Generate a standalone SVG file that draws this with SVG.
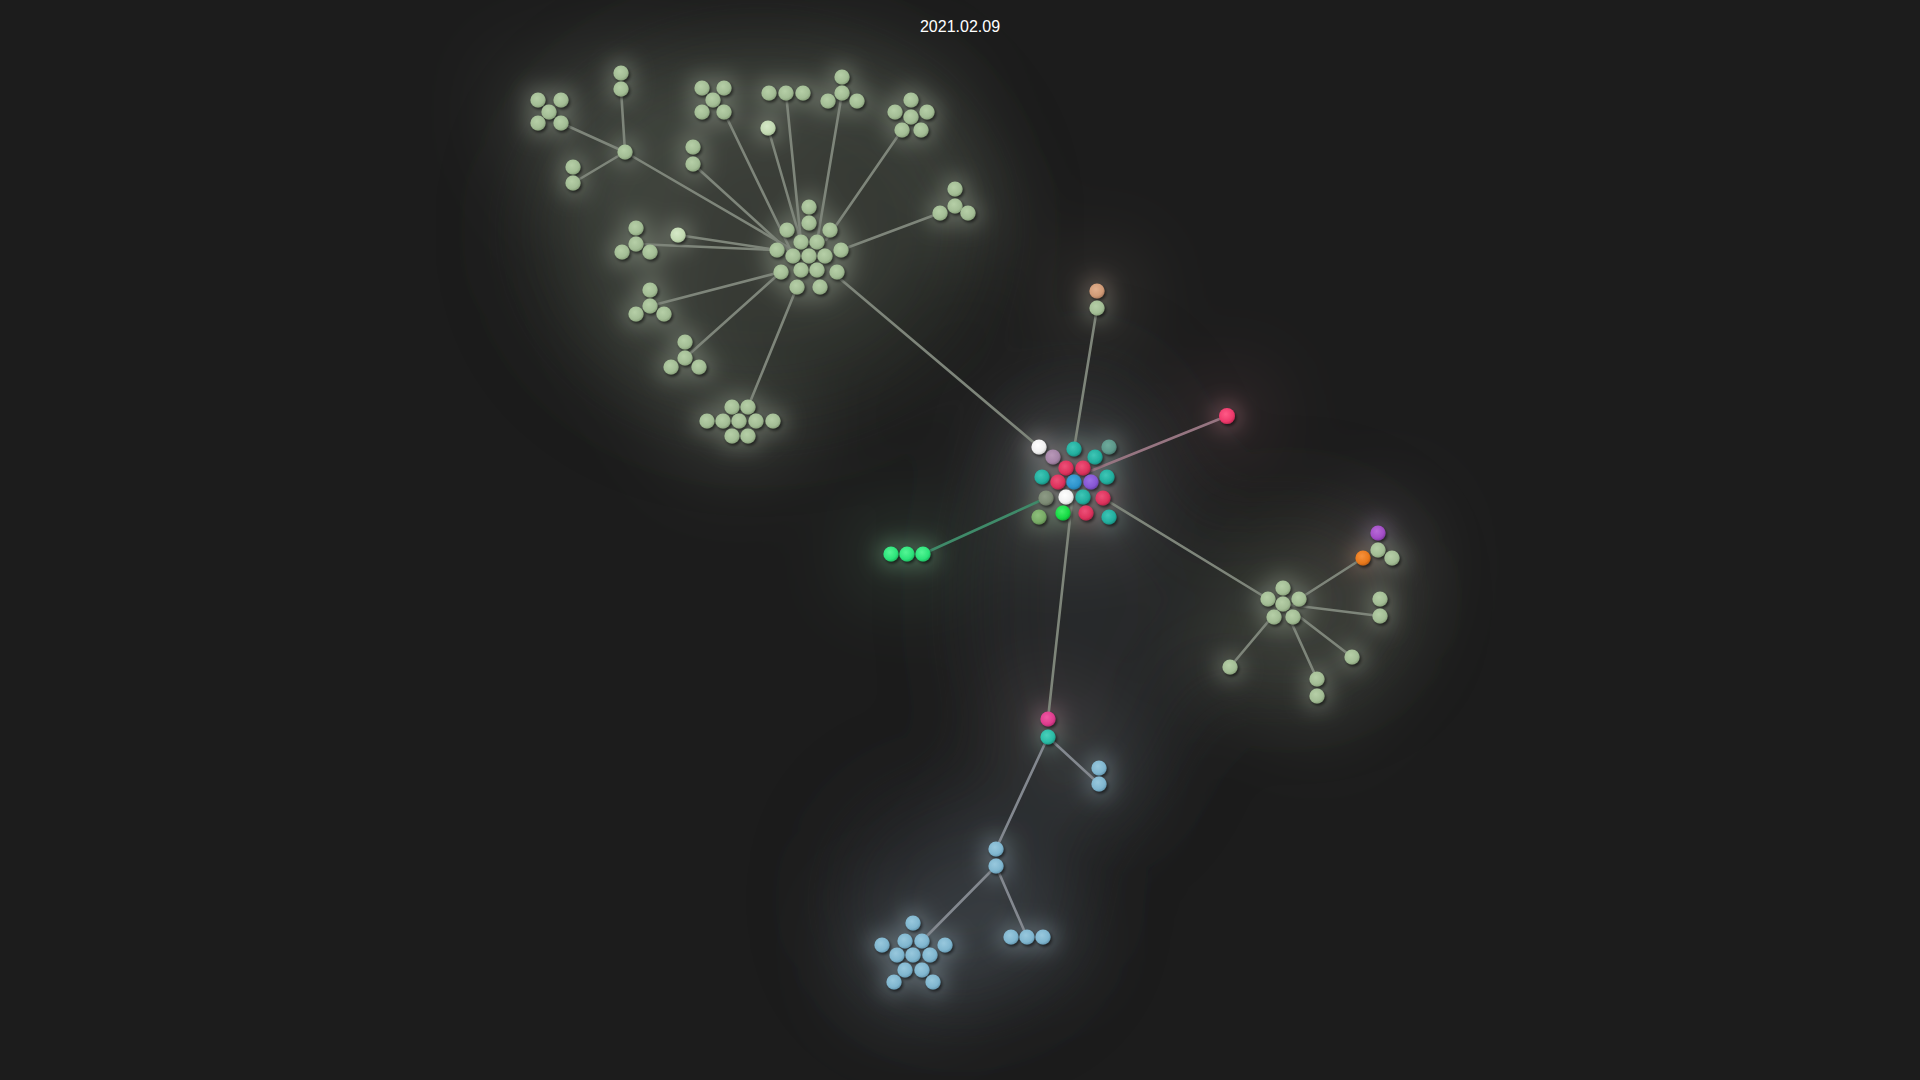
<svg xmlns="http://www.w3.org/2000/svg" xmlns:xlink="http://www.w3.org/1999/xlink" width="1920" height="1080" viewBox="0 0 1920 1080">
<defs>
<filter id="fog" filterUnits="userSpaceOnUse" x="0" y="0" width="1920" height="1080">
<feMorphology operator="dilate" radius="26"/>
<feGaussianBlur stdDeviation="40"/>
<feColorMatrix type="matrix" values="0.6 0 0 0 0.22  0 0.6 0 0 0.22  0 0 0.6 0 0.22  0 0 0 0.16 0"/>
</filter>
<filter id="halo" filterUnits="userSpaceOnUse" x="0" y="0" width="1920" height="1080">
<feMorphology operator="dilate" radius="6"/>
<feGaussianBlur stdDeviation="10"/>
<feColorMatrix type="matrix" values="0.7 0 0 0 0.28  0 0.7 0 0 0.28  0 0 0.7 0 0.28  0 0 0 0.26 0"/>
</filter>
<filter id="mist" filterUnits="userSpaceOnUse" x="0" y="0" width="1920" height="1080">
<feGaussianBlur stdDeviation="45"/>
</filter>
<filter id="shadow" filterUnits="userSpaceOnUse" x="0" y="0" width="1920" height="1080">
<feDropShadow dx="1.5" dy="2" stdDeviation="1.6" flood-color="#000" flood-opacity="0.6"/>
</filter>
<radialGradient id="gs" cx="0.42" cy="0.38" r="0.62"><stop offset="0" stop-color="#b6cfa7"/><stop offset="0.75" stop-color="#a3bd95"/><stop offset="1" stop-color="#8aa37c"/></radialGradient>
<radialGradient id="gsb" cx="0.42" cy="0.38" r="0.62"><stop offset="0" stop-color="#d6e9c8"/><stop offset="0.75" stop-color="#c2d9b2"/><stop offset="1" stop-color="#a9c199"/></radialGradient>
<radialGradient id="gb" cx="0.42" cy="0.38" r="0.62"><stop offset="0" stop-color="#98c8dd"/><stop offset="0.75" stop-color="#80b6cf"/><stop offset="1" stop-color="#679bb4"/></radialGradient>
<radialGradient id="gt" cx="0.42" cy="0.38" r="0.62"><stop offset="0" stop-color="#3fc6b6"/><stop offset="0.75" stop-color="#22ae9e"/><stop offset="1" stop-color="#178e80"/></radialGradient>
<radialGradient id="gr" cx="0.42" cy="0.38" r="0.62"><stop offset="0" stop-color="#ee5078"/><stop offset="0.75" stop-color="#dc325c"/><stop offset="1" stop-color="#b5244a"/></radialGradient>
<radialGradient id="gw" cx="0.42" cy="0.38" r="0.62"><stop offset="0" stop-color="#ffffff"/><stop offset="0.75" stop-color="#f0f0f0"/><stop offset="1" stop-color="#cfcfcf"/></radialGradient>
<radialGradient id="gl" cx="0.42" cy="0.38" r="0.62"><stop offset="0" stop-color="#b898b8"/><stop offset="0.75" stop-color="#a484a6"/><stop offset="1" stop-color="#876c88"/></radialGradient>
<radialGradient id="gtg" cx="0.42" cy="0.38" r="0.62"><stop offset="0" stop-color="#6fab9c"/><stop offset="0.75" stop-color="#5c978a"/><stop offset="1" stop-color="#4a7b70"/></radialGradient>
<radialGradient id="gbl" cx="0.42" cy="0.38" r="0.62"><stop offset="0" stop-color="#46a8dc"/><stop offset="0.75" stop-color="#2d93cc"/><stop offset="1" stop-color="#2277a8"/></radialGradient>
<radialGradient id="gp" cx="0.42" cy="0.38" r="0.62"><stop offset="0" stop-color="#9c70e4"/><stop offset="0.75" stop-color="#8656d4"/><stop offset="1" stop-color="#6b42ae"/></radialGradient>
<radialGradient id="ggg" cx="0.42" cy="0.38" r="0.62"><stop offset="0" stop-color="#8e9b86"/><stop offset="0.75" stop-color="#7b8973"/><stop offset="1" stop-color="#65705e"/></radialGradient>
<radialGradient id="glg" cx="0.42" cy="0.38" r="0.62"><stop offset="0" stop-color="#8fc07c"/><stop offset="0.75" stop-color="#78ab66"/><stop offset="1" stop-color="#5f8c50"/></radialGradient>
<radialGradient id="gbg" cx="0.42" cy="0.38" r="0.62"><stop offset="0" stop-color="#45f06a"/><stop offset="0.75" stop-color="#16da44"/><stop offset="1" stop-color="#0fae34"/></radialGradient>
<radialGradient id="gpk" cx="0.42" cy="0.38" r="0.62"><stop offset="0" stop-color="#ff5a86"/><stop offset="0.75" stop-color="#ee3a6c"/><stop offset="1" stop-color="#c82a55"/></radialGradient>
<radialGradient id="gm" cx="0.42" cy="0.38" r="0.62"><stop offset="0" stop-color="#f05aa4"/><stop offset="0.75" stop-color="#de3c8e"/><stop offset="1" stop-color="#b82c72"/></radialGradient>
<radialGradient id="ggr" cx="0.42" cy="0.38" r="0.62"><stop offset="0" stop-color="#55f595"/><stop offset="0.75" stop-color="#2ce37a"/><stop offset="1" stop-color="#1fbc62"/></radialGradient>
<radialGradient id="gpu" cx="0.42" cy="0.38" r="0.62"><stop offset="0" stop-color="#b86ad8"/><stop offset="0.75" stop-color="#a24dc6"/><stop offset="1" stop-color="#843aa4"/></radialGradient>
<radialGradient id="go" cx="0.42" cy="0.38" r="0.62"><stop offset="0" stop-color="#f6923c"/><stop offset="0.75" stop-color="#e8781c"/><stop offset="1" stop-color="#c26014"/></radialGradient>
<radialGradient id="gpe" cx="0.42" cy="0.38" r="0.62"><stop offset="0" stop-color="#e2b08e"/><stop offset="0.75" stop-color="#d09a76"/><stop offset="1" stop-color="#ad7c5e"/></radialGradient>
<radialGradient id="gt2" cx="0.42" cy="0.38" r="0.62"><stop offset="0" stop-color="#4ad0bb"/><stop offset="0.75" stop-color="#2abba5"/><stop offset="1" stop-color="#1d9885"/></radialGradient>
</defs>
<style>
circle{r:7.6px}
.s{fill:url(#gs)}.sb{fill:url(#gsb)}.b{fill:url(#gb)}.t{fill:url(#gt)}.r{fill:url(#gr)}.w{fill:url(#gw)}
.l{fill:url(#gl)}.tg{fill:url(#gtg)}.bl{fill:url(#gbl)}.p{fill:url(#gp)}.gg{fill:url(#ggg)}.lg{fill:url(#glg)}
.bg{fill:url(#gbg)}.pk{fill:url(#gpk)}.m{fill:url(#gm)}.gr{fill:url(#ggr)}.pu{fill:url(#gpu)}.o{fill:url(#go)}
.pe{fill:url(#gpe)}.t2{fill:url(#gt2)}
#edges line{stroke:#7e857a;stroke-width:2.6;stroke-linecap:round}
#edges line.ep{stroke:#967581}
#edges line.eg{stroke:#3f8a69}
#edges line.eb{stroke:#83888f}
.title{font-family:"Liberation Sans",Arial,sans-serif;font-size:16px;fill:#ffffff}
</style>
<rect width="1920" height="1080" fill="#1c1c1c"/>
<g filter="url(#mist)" opacity="0.5">
<ellipse cx="760" cy="230" rx="230" ry="190" fill="#383c34"/>
<ellipse cx="1080" cy="600" rx="110" ry="230" fill="#333538"/>
<ellipse cx="1290" cy="600" rx="110" ry="90" fill="#33352f"/>
<ellipse cx="960" cy="900" rx="120" ry="110" fill="#32363b"/>
</g>
<use xlink:href="#nodes" href="#nodes" filter="url(#fog)"/>
<use xlink:href="#nodes" href="#nodes" filter="url(#halo)"/>
<g id="edges">
<line x1="561" y1="123" x2="625" y2="152"/>
<line x1="621" y1="89" x2="625" y2="152"/>
<line x1="573" y1="183" x2="625" y2="152"/>
<line x1="625" y1="152" x2="793" y2="250"/>
<line x1="693" y1="164" x2="793" y2="255"/>
<line x1="724" y1="112" x2="793" y2="255"/>
<line x1="768" y1="128" x2="801" y2="242"/>
<line x1="786" y1="93" x2="801" y2="242"/>
<line x1="842" y1="93" x2="817" y2="242"/>
<line x1="902" y1="130" x2="826" y2="240"/>
<line x1="940" y1="213" x2="841" y2="250"/>
<line x1="678" y1="235" x2="777" y2="250"/>
<line x1="636" y1="244" x2="777" y2="250"/>
<line x1="650" y1="306" x2="781" y2="272"/>
<line x1="685" y1="358" x2="781" y2="272"/>
<line x1="748" y1="407" x2="797" y2="287"/>
<line x1="832" y1="272" x2="1039" y2="447"/>
<line x1="1097" y1="308" x2="1074" y2="449"/>
<line class="ep" x1="1227" y1="416" x2="1088" y2="472"/>
<line class="eg" x1="923" y1="554" x2="1046" y2="498"/>
<line x1="1074" y1="482" x2="1048" y2="719"/>
<line x1="1103" y1="498" x2="1268" y2="599"/>
<line x1="1363" y1="558" x2="1299" y2="599"/>
<line x1="1283" y1="604" x2="1380" y2="616"/>
<line x1="1283" y1="604" x2="1352" y2="657"/>
<line x1="1283" y1="604" x2="1317" y2="679"/>
<line x1="1283" y1="604" x2="1230" y2="667"/>
<line class="eb" x1="1048" y1="737" x2="1099" y2="784"/>
<line class="eb" x1="1048" y1="737" x2="996" y2="849"/>
<line class="eb" x1="996" y1="866" x2="922" y2="941"/>
<line class="eb" x1="996" y1="866" x2="1027" y2="937"/>
</g>
<g id="nodes" filter="url(#shadow)">
<g id="tl-x1"><circle class="s" cx="538" cy="100"/><circle class="s" cx="561" cy="100"/><circle class="s" cx="549" cy="112"/><circle class="s" cx="538" cy="123"/><circle class="s" cx="561" cy="123"/></g>
<g id="tl-pair1"><circle class="s" cx="621" cy="73"/><circle class="s" cx="621" cy="89"/></g>
<g id="tl-hub"><circle class="s" cx="625" cy="152"/></g>
<g id="tl-pair2"><circle class="s" cx="573" cy="167"/><circle class="s" cx="573" cy="183"/></g>
<g id="tl-x2"><circle class="s" cx="702" cy="88"/><circle class="s" cx="724" cy="88"/><circle class="s" cx="713" cy="100"/><circle class="s" cx="702" cy="112"/><circle class="s" cx="724" cy="112"/></g>
<g id="tl-pair3"><circle class="s" cx="693" cy="147"/><circle class="s" cx="693" cy="164"/></g>
<g id="tl-single1"><circle class="sb" cx="768" cy="128"/></g>
<g id="tl-trio"><circle class="s" cx="769" cy="93"/><circle class="s" cx="786" cy="93"/><circle class="s" cx="803" cy="93"/></g>
<g id="tl-tri1"><circle class="s" cx="842" cy="77"/><circle class="s" cx="842" cy="93"/><circle class="s" cx="828" cy="101"/><circle class="s" cx="857" cy="101"/></g>
<g id="tl-flower"><circle class="s" cx="911" cy="100"/><circle class="s" cx="895" cy="112"/><circle class="s" cx="911" cy="117"/><circle class="s" cx="927" cy="112"/><circle class="s" cx="902" cy="130"/><circle class="s" cx="921" cy="130"/></g>
<g id="tl-tri2"><circle class="s" cx="955" cy="189"/><circle class="s" cx="955" cy="206"/><circle class="s" cx="940" cy="213"/><circle class="s" cx="968" cy="213"/></g>
<g id="tl-tri3"><circle class="s" cx="636" cy="228"/><circle class="s" cx="636" cy="244"/><circle class="s" cx="622" cy="252"/><circle class="s" cx="650" cy="252"/></g>
<g id="tl-single2"><circle class="sb" cx="678" cy="235"/></g>
<g id="tl-tri4"><circle class="s" cx="650" cy="290"/><circle class="s" cx="650" cy="306"/><circle class="s" cx="636" cy="314"/><circle class="s" cx="664" cy="314"/></g>
<g id="tl-tri5"><circle class="s" cx="685" cy="342"/><circle class="s" cx="685" cy="358"/><circle class="s" cx="671" cy="367"/><circle class="s" cx="699" cy="367"/></g>
<g id="tl-bottom"><circle class="s" cx="732" cy="407"/><circle class="s" cx="748" cy="407"/><circle class="s" cx="707" cy="421"/><circle class="s" cx="723" cy="421"/><circle class="s" cx="739" cy="421"/><circle class="s" cx="756" cy="421"/><circle class="s" cx="773" cy="421"/><circle class="s" cx="732" cy="436"/><circle class="s" cx="748" cy="436"/></g>
<g id="tl-core"><circle class="s" cx="809" cy="207"/><circle class="s" cx="809" cy="223"/><circle class="s" cx="787" cy="230"/><circle class="s" cx="830" cy="230"/><circle class="s" cx="801" cy="242"/><circle class="s" cx="817" cy="242"/><circle class="s" cx="777" cy="250"/><circle class="s" cx="793" cy="256"/><circle class="s" cx="809" cy="256"/><circle class="s" cx="825" cy="256"/><circle class="s" cx="841" cy="250"/><circle class="s" cx="781" cy="272"/><circle class="s" cx="801" cy="270"/><circle class="s" cx="817" cy="270"/><circle class="s" cx="837" cy="272"/><circle class="s" cx="797" cy="287"/><circle class="s" cx="820" cy="287"/></g>
<g id="peach-pair"><circle class="pe" cx="1097" cy="291"/><circle class="s" cx="1097" cy="308"/></g>
<g id="pink-single"><circle class="pk" cx="1227" cy="416" style="r:8px"/></g>
<g id="green-trio"><circle class="gr" cx="891" cy="554"/><circle class="gr" cx="907" cy="554"/><circle class="gr" cx="923" cy="554"/></g>
<g id="center">
<circle class="w" cx="1039" cy="447"/><circle class="l" cx="1053" cy="457"/><circle class="t" cx="1074" cy="449"/><circle class="tg" cx="1109" cy="447"/><circle class="t" cx="1095" cy="457"/>
<circle class="r" cx="1066" cy="468"/><circle class="r" cx="1083" cy="468"/>
<circle class="t" cx="1042" cy="477"/><circle class="r" cx="1058" cy="482"/><circle class="bl" cx="1074" cy="482"/><circle class="p" cx="1091" cy="482"/><circle class="t" cx="1107" cy="477"/>
<circle class="gg" cx="1046" cy="498"/><circle class="w" cx="1066" cy="497"/><circle class="t" cx="1083" cy="497"/><circle class="r" cx="1103" cy="498"/>
<circle class="lg" cx="1039" cy="517"/><circle class="bg" cx="1063" cy="513"/><circle class="r" cx="1086" cy="513"/><circle class="t" cx="1109" cy="517"/>
</g>
<g id="r-orange"><circle class="pu" cx="1378" cy="533"/><circle class="s" cx="1378" cy="550"/><circle class="o" cx="1363" cy="558"/><circle class="s" cx="1392" cy="558"/></g>
<g id="r-flower"><circle class="s" cx="1283" cy="588"/><circle class="s" cx="1268" cy="599"/><circle class="s" cx="1299" cy="599"/><circle class="s" cx="1283" cy="604"/><circle class="s" cx="1274" cy="617"/><circle class="s" cx="1293" cy="617"/></g>
<g id="r-pair1"><circle class="s" cx="1380" cy="599"/><circle class="s" cx="1380" cy="616"/></g>
<g id="r-single1"><circle class="s" cx="1352" cy="657"/></g>
<g id="r-pair2"><circle class="s" cx="1317" cy="679"/><circle class="s" cx="1317" cy="696"/></g>
<g id="r-single2"><circle class="s" cx="1230" cy="667"/></g>
<g id="b-top"><circle class="m" cx="1048" cy="719"/><circle class="t2" cx="1048" cy="737"/></g>
<g id="b-pair1"><circle class="b" cx="1099" cy="768"/><circle class="b" cx="1099" cy="784"/></g>
<g id="b-pair2"><circle class="b" cx="996" cy="849"/><circle class="b" cx="996" cy="866"/></g>
<g id="b-trio"><circle class="b" cx="1011" cy="937"/><circle class="b" cx="1027" cy="937"/><circle class="b" cx="1043" cy="937"/></g>
<g id="b-cluster"><circle class="b" cx="913" cy="923"/><circle class="b" cx="882" cy="945"/><circle class="b" cx="905" cy="941"/><circle class="b" cx="922" cy="941"/><circle class="b" cx="945" cy="945"/><circle class="b" cx="897" cy="955"/><circle class="b" cx="913" cy="955"/><circle class="b" cx="930" cy="955"/><circle class="b" cx="905" cy="970"/><circle class="b" cx="922" cy="970"/><circle class="b" cx="894" cy="982"/><circle class="b" cx="933" cy="982"/></g>
</g>
<text class="title" x="960" y="32" text-anchor="middle">2021.02.09</text>
</svg>
